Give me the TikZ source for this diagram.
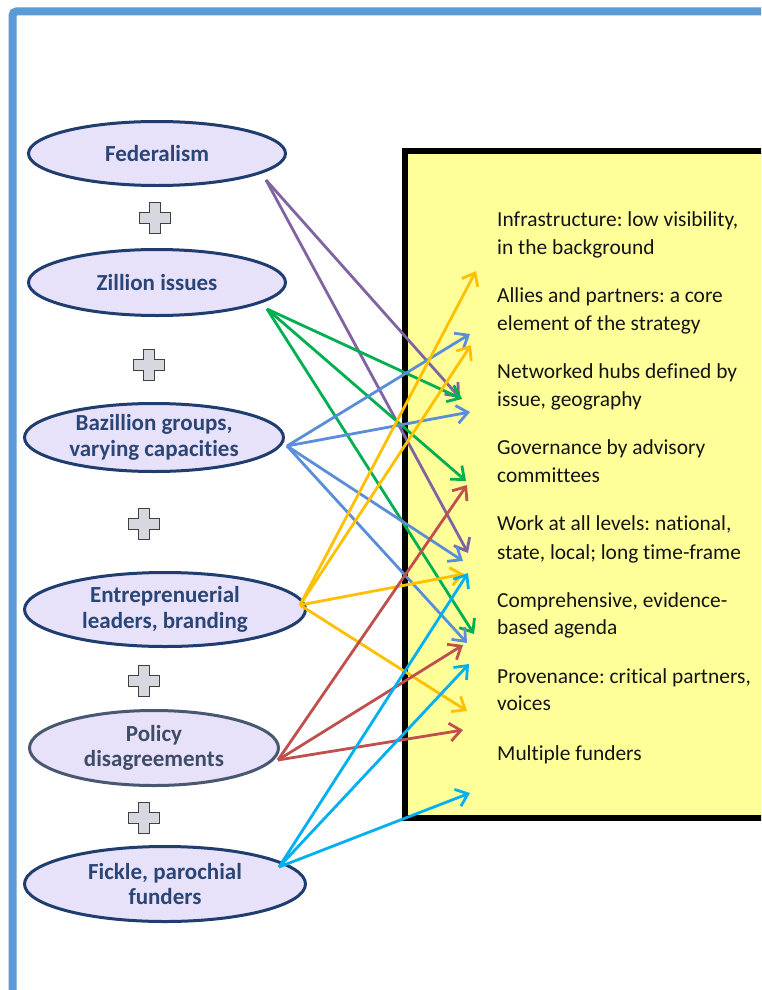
\documentclass[tikz,border=0pt]{standalone}
\usepackage{fontspec}
\setmainfont{Carlito}[Ligatures=NoCommon]
\usetikzlibrary{arrows.meta,shapes.geometric}
\definecolor{framebl}{HTML}{5B9BD5}
\definecolor{boxyellow}{HTML}{FFFF99}
\definecolor{ellfill}{HTML}{E8E1FA}
\definecolor{ellborder}{HTML}{1F3D6E}
\definecolor{elltext}{HTML}{2A4677}
\definecolor{polborder}{HTML}{475870}
\definecolor{poltext}{HTML}{3E4C66}
\definecolor{plusfill}{HTML}{D5D8DE}
\definecolor{arpurple}{HTML}{8064A2}
\definecolor{argreen}{HTML}{00B050}
\definecolor{arblue}{HTML}{5B8ED8}
\definecolor{argold}{HTML}{FFC000}
\definecolor{arred}{HTML}{C0504D}
\definecolor{arcyan}{HTML}{00B0F0}
\frenchspacing
\tikzset{
  ell/.style={ellipse, draw=ellborder, line width=3pt, fill=ellfill, inner sep=0pt,
    align=center, font=\fontsize{23}{25.5}\selectfont\bfseries, text=elltext},
  itemtxt/.style={anchor=base west, inner sep=0pt, font=\fontsize{21.4}{28}\selectfont, text=black!92},
  conn/.style={line width=2.8pt, -{Straight Barb[length=11pt,width=18pt]}},
  plusstyle/.style={fill=plusfill, draw=black!75, line width=1.3pt, line join=miter},
  pics/plussign/.style={code={
    \draw[plusstyle] (-5.5,-15.5) -- (5.5,-15.5) -- (5.5,-5.5) -- (15.5,-5.5) -- (15.5,5.5)
      -- (5.5,5.5) -- (5.5,15.5) -- (-5.5,15.5) -- (-5.5,5.5) -- (-15.5,5.5) -- (-15.5,-5.5)
      -- (-5.5,-5.5) -- cycle;}}
}
\begin{document}
\begin{tikzpicture}[x=1pt,y=-1pt]
\useasboundingbox (0,0) rectangle (761,990);
\clip (0,0) rectangle (761,990);
\fill[white] (0,0) rectangle (761,990);
% outer frame
\draw[framebl, line width=8pt, rounded corners=4pt] (12.5,1000) -- (12.5,11.5) -- (790,11.5);
% yellow box
\draw[fill=boxyellow, line width=5.5pt] (405,151) rectangle (800,818);
% box texts
\node[itemtxt] (t1a) at (497,226) {Infrastructure: low visibility,};
\node[itemtxt] (t1b) at (497,254) {in the background};
\node[itemtxt] (t2a) at (497,302) {Allies and partners: a core};
\node[itemtxt] (t2b) at (497,330) {element of the strategy};
\node[itemtxt] (t3a) at (497,378) {Networked hubs defined by};
\node[itemtxt] (t3b) at (497,406) {issue, geography};
\node[itemtxt] (t4a) at (497,454) {Governance by advisory};
\node[itemtxt] (t4b) at (497,482) {committees};
\node[itemtxt] (t5a) at (497,530) {Work at all levels: national,};
\node[itemtxt] (t5b) at (497,559) {state, local; long time-frame};
\node[itemtxt] (t6a) at (497,607) {Comprehensive, evidence-};
\node[itemtxt] (t6b) at (497,634) {based agenda};
\node[itemtxt] (t7a) at (497,683) {Provenance: critical partners,};
\node[itemtxt] (t7b) at (497,710) {voices};
\node[itemtxt] (t8a) at (497,760) {Multiple funders};
% ellipses
\node[ell, minimum width=257pt, minimum height=64pt] (fed) at (157,153.5) {Federalism};
\node[ell, minimum width=257pt, minimum height=66pt] (zil) at (157,282.5) {Zillion issues};
\node[ell, minimum width=259pt, minimum height=68pt] (baz) at (154,437.5) {Bazillion groups,\\varying capacities};
\node[ell, minimum width=281pt, minimum height=74pt] (ent) at (165,609.5) {Entreprenuerial\\leaders, branding};
\node[ell, draw=polborder, text=poltext, minimum width=249pt, minimum height=75pt] (pol) at (154,748) {Policy\\disagreements};
\node[ell, minimum width=281pt, minimum height=75pt] (fic) at (165,884) {Fickle, parochial\\funders};
% plus signs
\pic at (155,218) {plussign};
\pic at (149,365) {plussign};
\pic at (144,524) {plussign};
\pic at (144,681) {plussign};
\pic at (144,818) {plussign};
% connector start points
\coordinate (sfed) at (266,180);
\coordinate (szil) at (267,309);
\coordinate (sbaz) at (287,446);
\coordinate (sent) at (300,605);
\coordinate (spol) at (278,760);
\coordinate (sfic) at (279,867);
% connector end points
\coordinate (p1) at (460,398);
\coordinate (p2) at (468,553);
\coordinate (g1) at (462,399);
\coordinate (g2) at (466,481);
\coordinate (g3) at (474,634);
\coordinate (b1) at (470,334);
\coordinate (b2) at (470,412);
\coordinate (b3) at (463,561);
\coordinate (b4) at (467,643);
\coordinate (y1) at (476,271);
\coordinate (y2) at (471,345);
\coordinate (y3) at (464,574);
\coordinate (y4) at (467,711);
\coordinate (r1) at (467,485);
\coordinate (r2) at (463,645);
\coordinate (r3) at (463,730);
\coordinate (c1) at (468,573);
\coordinate (c2) at (469,664);
\coordinate (c3) at (470,793);
% connectors
\draw[conn, arpurple] (sfed) -- (p1);
\draw[conn, arpurple] (sfed) -- (p2);
\draw[conn, argreen] (szil) -- (g1);
\draw[conn, argreen] (szil) -- (g2);
\draw[conn, argreen] (szil) -- (g3);
\draw[conn, arblue] (sbaz) -- (b1);
\draw[conn, arblue] (sbaz) -- (b2);
\draw[conn, arblue] (sbaz) -- (b3);
\draw[conn, arblue] (sbaz) -- (b4);
\draw[conn, argold] (sent) -- (y1);
\draw[conn, argold] (sent) -- (y2);
\draw[conn, argold] (sent) -- (y3);
\draw[conn, argold] (sent) -- (y4);
\draw[conn, arred] (spol) -- (r1);
\draw[conn, arred] (spol) -- (r2);
\draw[conn, arred] (spol) -- (r3);
\draw[conn, arcyan] (sfic) -- (c1);
\draw[conn, arcyan] (sfic) -- (c2);
\draw[conn, arcyan] (sfic) -- (c3);
\end{tikzpicture}
\end{document}
